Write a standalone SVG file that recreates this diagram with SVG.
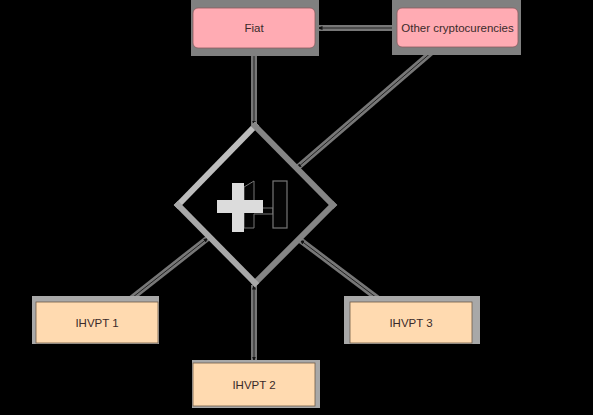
<svg xmlns="http://www.w3.org/2000/svg" width="593" height="415" viewBox="0 0 593 415">
<style>
.shadow{fill:#808080}
.shadowL{fill:#a8a8a8}
.pink{fill:#ffabb3;stroke:#8a5a5e;stroke-width:0.8}
.peach{fill:#ffdab0;stroke:#6e5a48;stroke-width:0.8}
.lbl{font-family:"Liberation Sans",Arial,sans-serif;font-size:11.5px;fill:#3a2a2a;text-anchor:middle;dominant-baseline:central}
.halo{stroke:#777;stroke-width:6;fill:none}
.wire{stroke:#222;stroke-width:1;fill:none;marker-start:url(#ah);marker-end:url(#ah)}
</style>
<defs>
<marker id="ah" viewBox="0 0 10 10" refX="9" refY="5" markerWidth="5" markerHeight="5" orient="auto-start-reverse" markerUnits="userSpaceOnUse">
<path d="M0,1 L10,5 L0,9 z" fill="#111"/>
</marker>
</defs>
<rect x="0" y="0" width="593" height="415" fill="#000"/>
<g id="connectors">
<line class="halo" x1="254" y1="49" x2="254" y2="125"/>
<line class="wire" x1="254" y1="49" x2="254" y2="125"/>
<line class="halo" x1="318" y1="28" x2="396" y2="28"/>
<line class="wire" x1="318" y1="28" x2="396" y2="28"/>
<line class="halo" x1="433" y1="51" x2="297" y2="168"/>
<line class="wire" x1="433" y1="51" x2="297" y2="168"/>
<line class="halo" x1="208" y1="238" x2="128" y2="301"/>
<line class="wire" x1="208" y1="238" x2="128" y2="301"/>
<line class="halo" x1="254" y1="285" x2="254" y2="361"/>
<line class="wire" x1="254" y1="285" x2="254" y2="361"/>
<line class="halo" x1="300" y1="240" x2="381" y2="301"/>
<line class="wire" x1="300" y1="240" x2="381" y2="301"/>
</g>
<g id="fiat">
<rect class="shadow" x="191" y="0" width="128" height="56"/>
<rect class="pink" x="193" y="8" width="122" height="40" rx="5"/>
<text class="lbl" x="254" y="28">Fiat</text>
</g>
<g id="other">
<rect class="shadow" x="392" y="0" width="129" height="55"/>
<rect class="pink" x="397" y="8" width="121" height="39" rx="5"/>
<text class="lbl" x="457.5" y="27.5">Other cryptocurencies</text>
</g>
<g id="hub">
<line x1="178" y1="205" x2="255" y2="126" stroke="#bdbdbd" stroke-width="6" stroke-linecap="square"/>
<line x1="255" y1="126" x2="333" y2="205" stroke="#858585" stroke-width="6" stroke-linecap="square"/>
<line x1="333" y1="205" x2="255" y2="283" stroke="#858585" stroke-width="6" stroke-linecap="square"/>
<line x1="255" y1="283" x2="178" y2="205" stroke="#a8a8a8" stroke-width="6" stroke-linecap="square"/>
<path d="M244,187 L254,181 L254,208 L273,208 L273,214 L254,214 L254,228 L244,228 z" fill="#050505" stroke="#777" stroke-width="1"/>
<rect x="273" y="181" width="14" height="47" fill="#050505" stroke="#777" stroke-width="1.2"/>
<rect x="232" y="183" width="12" height="49" fill="#dcdcdc"/>
<rect x="217" y="200" width="46" height="13" fill="#dcdcdc"/>
</g>
<g id="ihvpt1">
<rect class="shadowL" x="32" y="296" width="127" height="48"/>
<rect class="peach" x="36" y="302" width="122" height="41"/>
<text class="lbl" x="97" y="322.5">IHVPT 1</text>
</g>
<g id="ihvpt2">
<rect class="shadowL" x="192" y="360" width="128" height="48"/>
<rect class="peach" x="193" y="363" width="122" height="43"/>
<text class="lbl" x="254" y="384.5">IHVPT 2</text>
</g>
<g id="ihvpt3">
<rect class="shadowL" x="344" y="296" width="136" height="48"/>
<rect class="peach" x="350" y="302" width="122" height="41"/>
<text class="lbl" x="411" y="322.5">IHVPT 3</text>
</g>
</svg>
